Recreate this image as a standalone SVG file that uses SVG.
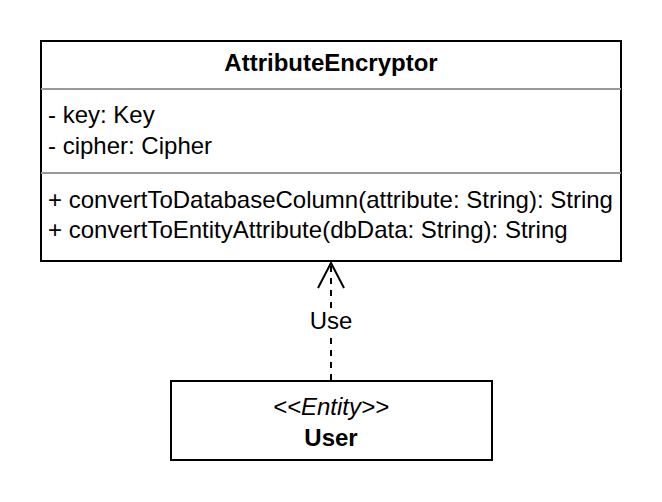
<svg xmlns="http://www.w3.org/2000/svg" width="662" height="502" viewBox="0 0 662 502">
<style>
text{font-family:"Liberation Sans",Arial,sans-serif;font-size:24px;fill:#000}
.b{font-weight:bold}
.box{fill:#fff;stroke:#000;stroke-width:2}
.sep{stroke:#999;stroke-width:2}
.edge{stroke:#000;stroke-width:2;fill:none}
</style>
<rect width="662" height="502" fill="#fff"/>
<g id="AttributeEncryptor">
<rect class="box" x="41" y="41" width="580" height="220"/>
<text class="b" x="331" y="71" text-anchor="middle">AttributeEncryptor</text>
<line class="sep" x1="41" y1="89" x2="621" y2="89"/>
<text x="48" y="123">- key: Key</text>
<text x="48" y="154">- cipher: Cipher</text>
<line class="sep" x1="41" y1="173" x2="621" y2="173"/>
<text x="48" y="208">+ convertToDatabaseColumn(attribute: String): String</text>
<text x="48" y="238">+ convertToEntityAttribute(dbData: String): String</text>
</g>
<g id="User">
<rect class="box" x="171" y="381" width="321" height="79"/>
<text x="331" y="415" text-anchor="middle" font-style="italic">&lt;&lt;Entity&gt;&gt;</text>
<text class="b" x="331" y="446" text-anchor="middle">User</text>
</g>
<g id="connectors">
<line class="edge" x1="331" y1="380" x2="331" y2="263" stroke-dasharray="6,6"/>
<polyline class="edge" points="318,288 331,263 344,288"/>
<rect x="306" y="309" width="50" height="26" fill="#fff"/>
<text x="331" y="329" text-anchor="middle" font-size="20">Use</text>
</g>
</svg>
